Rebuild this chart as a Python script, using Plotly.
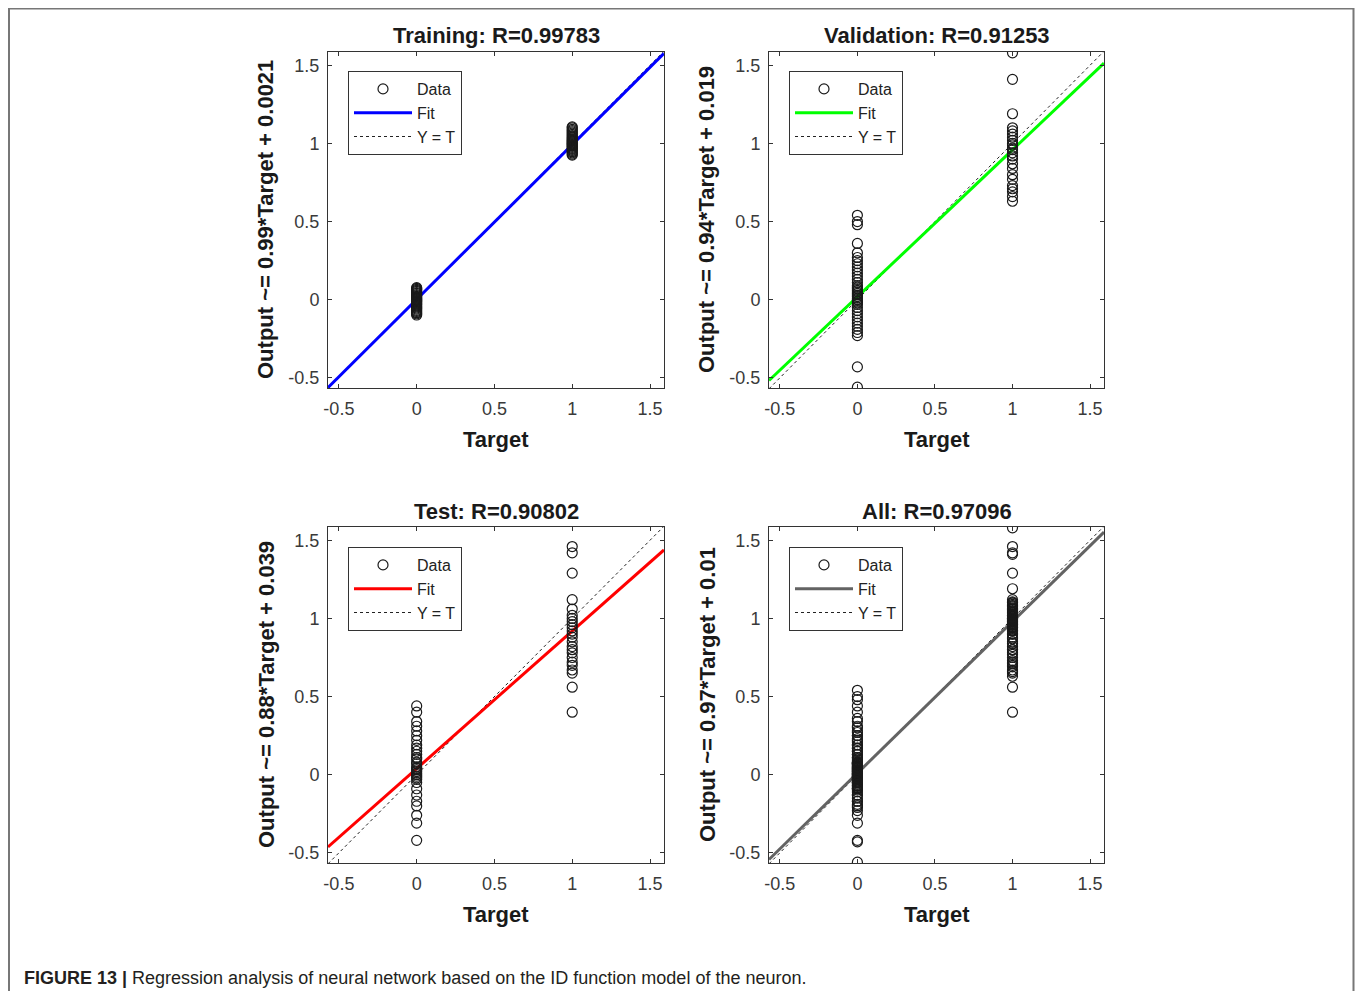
import plotly.graph_objects as go

# page body has an 8px margin; the figure is sized so it fits inside the window
OFF = 8
W, H = 1363 - 2 * OFF, 999 - 2 * OFF

# ---------------- data ----------------
panel_titles = ["Training: R=0.99783", "Validation: R=0.91253", "Test: R=0.90802", "All: R=0.97096"]
fit_slopes = [0.99, 0.94, 0.88, 0.97]
fit_intercepts = [0.0021, 0.019, 0.039, 0.01]
ytitle_text = ["Output ~= 0.99*Target + 0.0021", "Output ~= 0.94*Target + 0.019",
               "Output ~= 0.88*Target + 0.039", "Output ~= 0.97*Target + 0.01"]
fit_colors = ["#0000ff", "#00ff00", "#ff0000", "#636363"]

train_t0 = [-0.098, -0.09, -0.083, -0.075, -0.068, -0.06, -0.053, -0.046, -0.04, -0.033, -0.027,
            -0.021, -0.015, -0.01, -0.005, 0.0, 0.005, 0.01, 0.015, 0.021, 0.027, 0.033, 0.04,
            0.046, 0.053, 0.06, 0.066, 0.072, 0.077]
train_t1 = [0.925, 0.932, 0.94, 0.947, 0.955, 0.962, 0.968, 0.975, 0.981, 0.987, 0.993, 0.998,
            1.003, 1.009, 1.015, 1.021, 1.028, 1.035, 1.042, 1.05, 1.058, 1.066, 1.074, 1.082,
            1.09, 1.1, 1.106]
val_t0 = [0.54, 0.50, 0.48, 0.36, 0.30, 0.27, 0.25, 0.23, 0.21, 0.19, 0.17, 0.15, 0.13, 0.11,
          0.09, 0.08, 0.07, 0.06, 0.05, 0.04, 0.03, 0.02, 0.01, 0.0, -0.01, -0.02, -0.03,
          -0.05, -0.07, -0.09, -0.11, -0.13, -0.15, -0.17, -0.19, -0.21, -0.23, -0.43, -0.56]
val_t1 = [1.58, 1.41, 1.19, 1.10, 1.08, 1.06, 1.04, 1.02, 1.0, 0.99, 0.97, 0.96, 0.94, 0.92,
          0.90, 0.87, 0.84, 0.80, 0.77, 0.73, 0.71, 0.69, 0.66, 0.63]
test_t0 = [0.44, 0.40, 0.34, 0.31, 0.28, 0.25, 0.22, 0.19, 0.17, 0.15, 0.13, 0.11, 0.10, 0.08,
           0.07, 0.05, 0.04, 0.03, 0.02, 0.01, 0.0, -0.01, -0.02, -0.03, -0.05, -0.09, -0.13,
           -0.17, -0.20, -0.26, -0.31, -0.42]
test_t1 = [1.46, 1.42, 1.29, 1.12, 1.06, 1.02, 1.0, 0.98, 0.96, 0.94, 0.92, 0.90, 0.88, 0.85,
           0.82, 0.80, 0.78, 0.75, 0.72, 0.70, 0.67, 0.65, 0.56, 0.40]

targets_levels = [0, 1]
axis_range = [-0.57, 1.59]
yaxis_range = [-0.565, 1.585]
tick_vals = [-0.5, 0, 0.5, 1, 1.5]
tick_text = ["-0.5", "0", "0.5", "1", "1.5"]

panel_data = [
    (train_t0, train_t1),
    (val_t0, val_t1),
    (test_t0, test_t1),
    (train_t0 + val_t0 + test_t0, train_t1 + val_t1 + test_t1),
]

# ---------------- layout geometry (window pixels) ----------------
xdom_px = [(328, 664), (769, 1104), (328, 664), (769, 1104)]
ydom_px = [(52, 388), (52, 388), (527, 863), (527, 863)]
legend_px = [(348, 71), (789, 71), (348, 547), (789, 547)]


def px(x):
    return (x - OFF) / W


def py(y):
    return 1 - (y - OFF) / H


fig = go.Figure()
FONT = "Liberation Sans, Arial, sans-serif"
annotations = []

for i in range(4):
    xa = "x" if i == 0 else f"x{i + 1}"
    ya = "y" if i == 0 else f"y{i + 1}"
    lg = "legend" if i == 0 else f"legend{i + 1}"
    t0, t1 = panel_data[i]
    xs = [targets_levels[0]] * len(t0) + [targets_levels[1]] * len(t1)
    ys = t0 + t1
    # identity line
    fig.add_trace(go.Scatter(x=axis_range, y=axis_range, mode="lines", name="Y = T",
                             line=dict(color="#222222", width=1, dash="dot"),
                             xaxis=xa, yaxis=ya, legend=lg, legendrank=3, hoverinfo="skip"))
    # fit line
    fy = [fit_slopes[i] * v + fit_intercepts[i] for v in axis_range]
    fig.add_trace(go.Scatter(x=axis_range, y=fy, mode="lines", name="Fit",
                             line=dict(color=fit_colors[i], width=3),
                             xaxis=xa, yaxis=ya, legend=lg, legendrank=2))
    # data
    fig.add_trace(go.Scatter(x=xs, y=ys, mode="markers", name="Data",
                             marker=dict(symbol="circle-open", size=10, color="#1a1a1a",
                                         line=dict(width=1.2, color="#1a1a1a")),
                             xaxis=xa, yaxis=ya, legend=lg, legendrank=1))

    axcommon = dict(showline=True, linecolor="#333333", linewidth=1, mirror="ticks",
                    ticks="inside", ticklen=4, tickcolor="#333333", showgrid=False,
                    zeroline=False, tickvals=tick_vals, ticktext=tick_text,
                    tickfont=dict(family=FONT, size=18, color="#3a3a3a"), fixedrange=True)
    xkey = "xaxis" if i == 0 else f"xaxis{i + 1}"
    ykey = "yaxis" if i == 0 else f"yaxis{i + 1}"
    fig.update_layout({
        xkey: dict(domain=[px(xdom_px[i][0]), px(xdom_px[i][1])], range=axis_range,
                   anchor=ya, ticklabelstandoff=4, **axcommon),
        ykey: dict(domain=[py(ydom_px[i][1]), py(ydom_px[i][0])], range=yaxis_range,
                   anchor=xa, ticklabelstandoff=4, **axcommon),
        lg: dict(x=px(legend_px[i][0]), y=py(legend_px[i][1]), xanchor="left", yanchor="top",
                 bgcolor="white", bordercolor="#333333", borderwidth=1,
                 font=dict(family=FONT, size=16, color="#222222"),
                 itemwidth=58, tracegroupgap=0),
    })

    cx = (xdom_px[i][0] + xdom_px[i][1]) / 2
    cy = (ydom_px[i][0] + ydom_px[i][1]) / 2
    annotations.append(dict(text=f"<b>{panel_titles[i]}</b>", x=px(cx), y=py(ydom_px[i][0] - 16),
                            xref="paper", yref="paper", showarrow=False, xanchor="center",
                            yanchor="middle", font=dict(family=FONT, size=22, color="#1a1a1a")))
    annotations.append(dict(text="<b>Target</b>", x=px(cx), y=py(ydom_px[i][1] + 51),
                            xref="paper", yref="paper", showarrow=False, xanchor="center",
                            yanchor="middle", font=dict(family=FONT, size=22, color="#1a1a1a")))
    annotations.append(dict(text=f"<b>{ytitle_text[i]}</b>", x=px(xdom_px[i][0] - 62), y=py(cy),
                            xref="paper", yref="paper", showarrow=False, xanchor="center",
                            yanchor="middle", textangle=-90,
                            font=dict(family=FONT, size=22, color="#1a1a1a")))

annotations.append(dict(
    text="<b>FIGURE 13 |</b> Regression analysis of neural network based on the ID function model of the neuron.",
    x=px(22), y=py(978), xref="paper", yref="paper", showarrow=False, xanchor="left",
    yanchor="middle", font=dict(family=FONT, size=18, color="#231f20")))

fig.update_layout(
    width=W, height=H, margin=dict(l=0, r=0, t=0, b=0, autoexpand=False),
    paper_bgcolor="white", plot_bgcolor="white",
    annotations=annotations,
    shapes=[dict(type="rect", xref="paper", yref="paper", x0=px(9), x1=px(1353.5),
                 y0=-0.05, y1=py(8.5), line=dict(color="#777777", width=2), layer="above")],
)

fig.write_html("out.html")
